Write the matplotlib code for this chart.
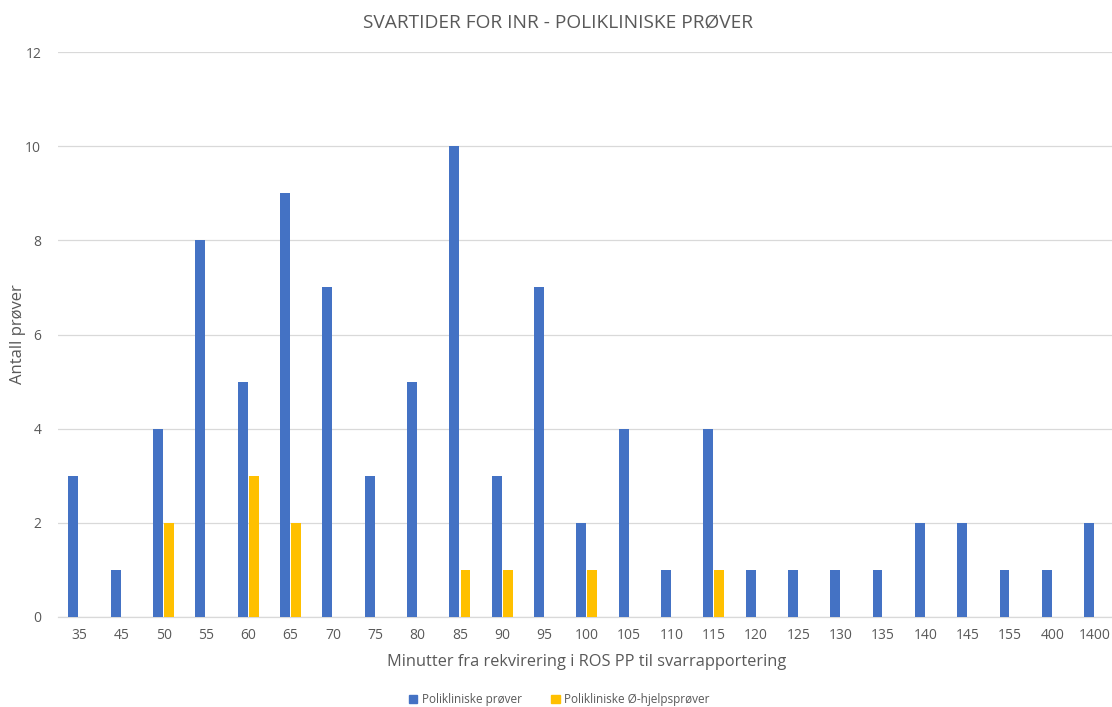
import matplotlib.pyplot as plt
import numpy as np
from matplotlib.patches import Patch

# Response times (minutes) and number of samples per bucket
minutes = ["35", "45", "50", "55", "60", "65", "70", "75", "80", "85", "90", "95", "100",
           "105", "110", "115", "120", "125", "130", "135", "140", "145", "155", "400", "1400"]
poliklinisk = [3, 1, 4, 8, 5, 9, 7, 3, 5, 10, 3, 7, 2, 4, 1, 4, 1, 1, 1, 1, 2, 2, 1, 1, 2]
ohjelp = [0, 0, 2, 0, 3, 2, 0, 0, 0, 1, 1, 0, 1, 0, 0, 1, 0, 0, 0, 0, 0, 0, 0, 0, 0]

BLUE = "#4472C4"
YELLOW = "#FFC000"
TEXT = "#595959"

plt.rcParams["font.family"] = ["Open Sans", "DejaVu Sans"]

fig = plt.figure(figsize=(11.12, 7.07), dpi=100)
ax = fig.add_axes([0.052, 0.1273, 0.9515, 0.7991])

x = np.arange(len(minutes))
w = 0.235
ax.bar(x - w / 2 - 0.015, poliklinisk, width=w, color=BLUE, zorder=3)
ax.bar(x + w / 2 + 0.015, ohjelp, width=w, color=YELLOW, zorder=3)

ax.set_xlim(-0.5, len(minutes) - 0.5)
ax.set_ylim(0, 12)
ax.set_yticks(range(0, 13, 2))
ax.set_xticks(x)
ax.set_xticklabels(minutes)
ax.tick_params(axis="both", length=0, labelsize=10, colors=TEXT)
ax.tick_params(axis="x", pad=8)
ax.tick_params(axis="y", pad=12)

ax.yaxis.grid(True, color="#d9d9d9", linewidth=0.9, zorder=0)
for side in ["top", "right", "left"]:
    ax.spines[side].set_visible(False)
ax.spines["bottom"].set_color("#d9d9d9")
ax.spines["bottom"].set_linewidth(0.9)

ax.set_xlabel("Minutter fra rekvirering i ROS PP til svarrapportering",
              fontsize=11.8, color=TEXT, labelpad=8)
fig.text(0.016, 0.528, "Antall prøver", rotation=90, ha="center", va="center",
         fontsize=12, color=TEXT)

fig.text(0.502, 0.968, "SVARTIDER FOR INR - POLIKLINISKE PRØVER",
         ha="center", va="center", fontsize=13.8, color=TEXT)

handles = [Patch(color=BLUE), Patch(color=YELLOW)]
fig.legend(handles, ["Polikliniske prøver", "Polikliniske Ø-hjelpsprøver"],
           loc="center", bbox_to_anchor=(0.503, 0.01), ncol=2, frameon=False,
           fontsize=8.5, labelcolor=TEXT, handlelength=0.7, handleheight=0.7,
           handletextpad=0.4, columnspacing=2.5)

fig.savefig("out.png", dpi=100)
